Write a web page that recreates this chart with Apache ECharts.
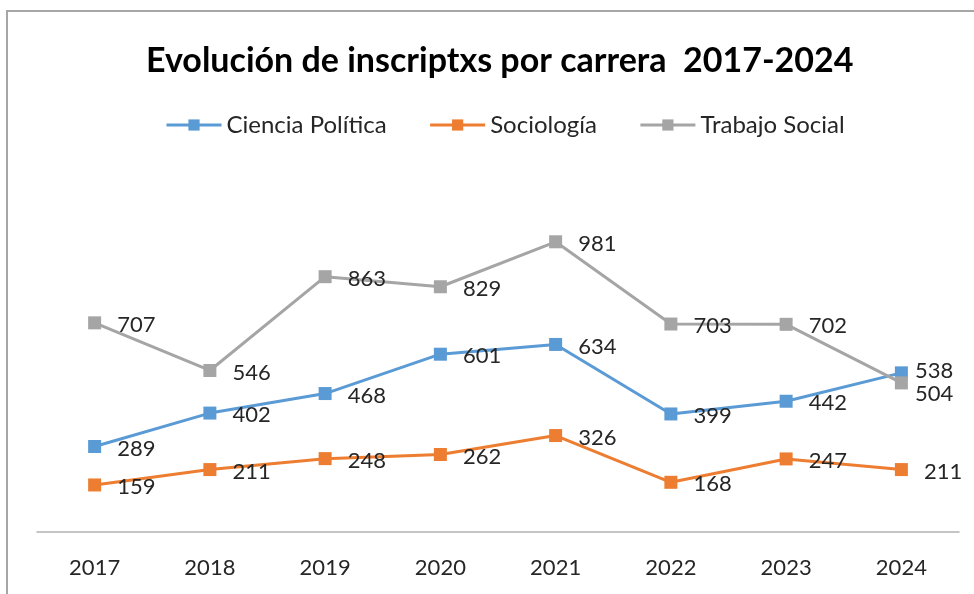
<!DOCTYPE html>
<html>
<head>
<meta charset="utf-8">
<script src="https://cdn.jsdelivr.net/npm/echarts@6/dist/echarts.min.js"></script>
<style>
    html, body { margin: 0; padding: 0; background: #fff; }
    #chart { width: 974px; height: 594px; }
</style>
</head>
<body>
<div id="chart"></div>
<script>
// años del eje x
const years = ['2017', '2018', '2019', '2020', '2021', '2022', '2023', '2024']
// inscriptxs por carrera
const cienciaPolitica = [289, 402, 468, 601, 634, 399, 442, 538]
const sociologia = [159, 211, 248, 262, 326, 168, 247, 211]
const trabajoSocial = [707, 546, 863, 829, 981, 703, 702, 504]

const colors = ['#5b9bd5', '#ed7d31', '#a5a5a5']
const font = 'Lato'

// etiqueta movida a mano en el último punto (como en el original)
function withLabelShift(values, idx, offset) {
    return values.map((v, i) => i === idx ? { value: v, label: { offset: offset } } : v)
}

function makeSeries(name, data, color) {
    return {
        type: 'line',
        name: name,
        data: data,
        symbol: 'rect',
        symbolSize: 13,
        lineStyle: { width: 3, color: color },
        itemStyle: { color: color },
        label: {
            show: true,
            position: 'right',
            distance: 16,
            offset: [0, 2],
            color: '#262626',
            fontFamily: font,
            fontSize: 22
        },
        animation: false
    }
}

const chart = echarts.init(document.getElementById('chart'))
chart.setOption({
    color: colors,
    graphic: [{
        type: 'rect',
        shape: { x: 7, y: 11, width: 1200, height: 1000 },
        style: { fill: 'none', stroke: '#a6a6a6', lineWidth: 2 },
        silent: true
    }],
    title: {
        text: 'Evolución de inscriptxs por carrera  2017-2024',
        left: 141,
        top: 39,
        textStyle: {
            fontFamily: font,
            fontWeight: 'bold',
            fontSize: 34,
            color: '#000'
        }
    },
    legend: {
        top: 108,
        left: 160,
        itemWidth: 55,
        itemHeight: 14,
        itemGap: 42,
        lineStyle: { width: 3 },
        textStyle: {
            fontFamily: font,
            fontSize: 24,
            color: '#262626'
        },
        data: ['Ciencia Política', 'Sociología', 'Trabajo Social']
    },
    grid: {
        left: 37,
        right: 15,
        top: 177,
        bottom: 62
    },
    xAxis: {
        type: 'category',
        data: years,
        boundaryGap: true,
        axisTick: { show: false },
        axisLine: { lineStyle: { color: '#b3b3b3', width: 1.5 } },
        axisLabel: {
            margin: 25,
            fontFamily: font,
            fontSize: 22,
            color: '#262626'
        }
    },
    yAxis: {
        type: 'value',
        min: 0,
        max: 1200,
        show: false,
        splitLine: { show: false }
    },
    series: [
        makeSeries('Ciencia Política', withLabelShift(cienciaPolitica, 7, [-9, -2]), colors[0]),
        makeSeries('Sociología', sociologia, colors[1]),
        makeSeries('Trabajo Social', withLabelShift(trabajoSocial, 7, [-9, 11]), colors[2])
    ]
})
</script>
</body>
</html>
